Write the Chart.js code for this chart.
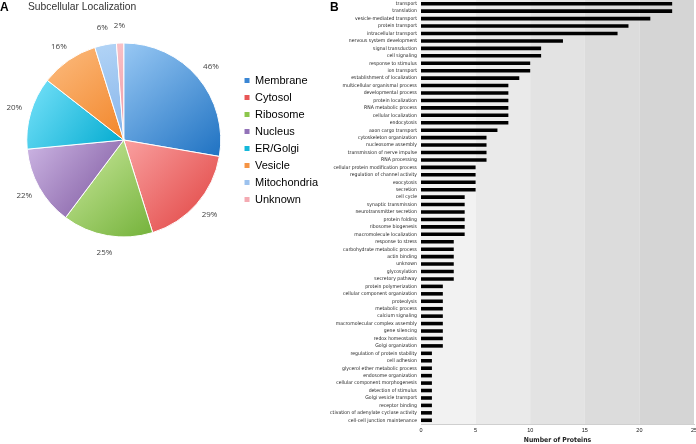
<!DOCTYPE html>
<html>
<head>
<meta charset="utf-8">
<script src="https://cdn.jsdelivr.net/npm/chart.js@4"></script>
<style>
  body { margin: 0; width: 696px; height: 444px; background: #fff; overflow: hidden; position: relative; }
  .box { position: absolute; }
  .letter { position: absolute; font: bold 12px Arial, "Liberation Sans", sans-serif; color: #000; line-height: 12px; }
  .title { position: absolute; font: 10.3px Arial, "Liberation Sans", sans-serif; color: #333; line-height: 12px; }
</style>
</head>
<body>
<div class="box" style="left:0;top:0;width:330px;height:280px"><canvas id="pie"></canvas></div>
<div class="box" style="left:330px;top:0;width:366px;height:444px"><canvas id="bar"></canvas></div>
<div class="letter" style="left:0;top:1px">A</div>
<div class="title" style="left:28px;top:1px">Subcellular Localization</div>
<div class="letter" style="left:330px;top:1px">B</div>
<script>
// panel A
const locations = ['Membrane', 'Cytosol', 'Ribosome', 'Nucleus', 'ER/Golgi', 'Vesicle', 'Mitochondria', 'Unknown'];
const locationShares = [46, 29, 25, 22, 20, 16, 6, 2];
const lightColors = ['#98c8f4', '#f9a0a0', '#cdeaa0', '#cdb6e4', '#78e2fa', '#fcbc80', '#b2d4f6', '#f8c0c6'];
const darkColors = ['#1f72c2', '#e0403e', '#74b23a', '#7a539c', '#00aacf', '#f2862a', '#86b4ea', '#ee98a4'];
const legendColors = ['#3a86d4', '#e85656', '#8cc64c', '#9272b8', '#14b8da', '#f59444', '#9cc2ee', '#f4aab2'];

// panel B
const processLabels = [
    'transport', 'translation', 'vesicle-mediated transport', 'protein transport', 'intracellular transport',
    'nervous system development', 'signal transduction', 'cell signaling', 'response to stimulus', 'ion transport',
    'establishment of localization', 'multicellular organismal process', 'developmental process', 'protein localization',
    'RNA metabolic process', 'cellular localization', 'endocytosis', 'axon cargo transport', 'cytoskeleton organization',
    'nucleosome assembly', 'transmission of nerve impulse', 'RNA processing', 'cellular protein modification process',
    'regulation of channel activity', 'exocytosis', 'secretion', 'cell cycle', 'synaptic transmission',
    'neurotransmitter secretion', 'protein folding', 'ribosome biogenesis', 'macromolecule localization',
    'response to stress', 'carbohydrate metabolic process', 'actin binding', 'unknown', 'glycosylation',
    'secretory pathway', 'protein polymerization', 'cellular component organization', 'proteolysis',
    'metabolic process', 'calcium signaling', 'macromolecular complex assembly', 'gene silencing',
    'redox homeostasis', 'Golgi organization', 'regulation of protein stability', 'cell adhesion',
    'glycerol ether metabolic process', 'endosome organization', 'cellular component morphogenesis',
    'detection of stimulus', 'Golgi vesicle transport', 'receptor binding',
    'activation of adenylate cyclase activity', 'cell-cell junction maintenance'
];
const proteinCounts = [
    23, 23, 21, 19, 18, 13, 11, 11, 10, 10,
    9, 8, 8, 8, 8, 8, 8, 7, 6, 6,
    6, 6, 5, 5, 5, 5, 4, 4, 4, 4,
    4, 4, 3, 3, 3, 3, 3, 3, 2, 2,
    2, 2, 2, 2, 2, 2, 2, 1, 1, 1,
    1, 1, 1, 1, 1, 1, 1
];
const countTicks = [0, 5, 10, 15, 20, 25];
const bandShades = ['#f2f2f2', '#eaeaea', '#e3e3e3', '#dcdcdc', '#d5d5d5'];

const pieRadius = 97;

function sliceGradient(ctx) {
    const i = ctx.dataIndex;
    const chart = ctx.chart;
    const area = chart.chartArea;
    if (!area || i === undefined) return legendColors[i] || '#ccc';
    const cx = (area.left + area.right) / 2;
    const cy = (area.top + area.bottom) / 2;
    const total = locationShares.reduce((a, b) => a + b, 0);
    let before = 0;
    for (let j = 0; j < i; j++) before += locationShares[j];
    const a0 = -Math.PI / 2 + before / total * Math.PI * 2;
    const a1 = a0 + locationShares[i] / total * Math.PI * 2;
    const xs = [cx], ys = [cy];
    for (let k = 0; k <= 30; k++) {
        const a = a0 + (a1 - a0) * k / 30;
        xs.push(cx + pieRadius * Math.cos(a));
        ys.push(cy + pieRadius * Math.sin(a));
    }
    const g = chart.ctx.createLinearGradient(Math.min(...xs), Math.min(...ys), Math.max(...xs), Math.max(...ys));
    g.addColorStop(0, lightColors[i]);
    g.addColorStop(1, darkColors[i]);
    return g;
}

const percentLabels = {
    id: 'percentLabels',
    afterDatasetsDraw(chart) {
        const ctx = chart.ctx;
        const meta = chart.getDatasetMeta(0);
        ctx.save();
        ctx.font = '8px "Open Sans", "DejaVu Sans", sans-serif';
        ctx.fillStyle = '#444';
        ctx.textAlign = 'center';
        ctx.textBaseline = 'middle';
        meta.data.forEach((arc, i) => {
            const mid = (arc.startAngle + arc.endAngle) / 2;
            const r = arc.outerRadius + 17;
            ctx.fillText(locationShares[i] + '%', arc.x + r * Math.cos(mid), arc.y + r * Math.sin(mid));
        });
        ctx.restore();
    }
};

new Chart(document.getElementById('pie'), {
    type: 'pie',
    data: {
        labels: locations,
        datasets: [{
            data: locationShares,
            backgroundColor: sliceGradient,
            borderColor: '#ffffff',
            borderWidth: 1,
            radius: pieRadius
        }]
    },
    options: {
        responsive: true,
        maintainAspectRatio: false,
        animation: false,
        layout: { padding: { left: 9, right: 2, top: 20, bottom: 20 } },
        plugins: {
            legend: {
                position: 'right',
                labels: {
                    boxWidth: 5,
                    boxHeight: 5,
                    padding: 6,
                    color: '#333',
                    font: { size: 11, family: 'Arial, "Liberation Sans", sans-serif' },
                    generateLabels: chart => chart.data.labels.map((l, i) => ({
                        text: l,
                        fillStyle: legendColors[i],
                        strokeStyle: legendColors[i],
                        lineWidth: 0,
                        hidden: false,
                        index: i
                    }))
                }
            },
            tooltip: { enabled: false }
        }
    },
    plugins: [percentLabels]
});

// grey bands behind the bars, plus the count labels under the axis
const bands = {
    id: 'bands',
    beforeDatasetsDraw(chart) {
        const x = chart.scales.x;
        const area = chart.chartArea;
        const ctx = chart.ctx;
        ctx.save();
        bandShades.forEach((c, k) => {
            const x0 = x.getPixelForValue(k * 5);
            const x1 = x.getPixelForValue(k * 5 + 5);
            ctx.fillStyle = c;
            ctx.fillRect(x0, area.top, x1 - x0, area.bottom - area.top);
        });
        ctx.restore();
    },
    afterDraw(chart) {
        const x = chart.scales.x;
        const ctx = chart.ctx;
        ctx.save();
        ctx.font = '5.5px Arial, "Liberation Sans", sans-serif';
        ctx.fillStyle = '#111';
        ctx.textAlign = 'center';
        ctx.textBaseline = 'middle';
        countTicks.forEach(v => ctx.fillText(String(v), x.getPixelForValue(v), chart.chartArea.bottom + 6.5));
        ctx.restore();
    }
};

const narrow = '"Liberation Sans Narrow", "DejaVu Sans Condensed", "Arial Narrow", Arial, sans-serif';

new Chart(document.getElementById('bar'), {
    type: 'bar',
    data: {
        labels: processLabels,
        datasets: [{
            data: proteinCounts,
            backgroundColor: '#000',
            categoryPercentage: 1,
            barPercentage: 0.48
        }]
    },
    options: {
        indexAxis: 'y',
        responsive: true,
        maintainAspectRatio: false,
        animation: false,
        layout: { padding: { top: 0, left: 0, bottom: 0, right: 2 } },
        plugins: { legend: { display: false }, tooltip: { enabled: false } },
        scales: {
            y: {
                grid: { display: false, drawTicks: false },
                border: { color: '#cfcfcf' },
                ticks: { autoSkip: false, padding: 4, color: '#222', font: { size: 5.1, family: narrow } },
                afterFit: s => { s.width = 91; s.paddingTop = 0; s.paddingBottom = 0; }
            },
            x: {
                min: 0,
                max: 25,
                grid: { display: false, drawTicks: false },
                border: { color: '#cfcfcf' },
                ticks: { display: false },
                title: { display: true, text: 'Number of Proteins', color: '#222', padding: { top: 0, bottom: 0 }, font: { size: 6.8, weight: 'bold', family: narrow } },
                afterFit: s => { s.height = 20; s.paddingLeft = 0; s.paddingRight = 0; }
            }
        }
    },
    plugins: [bands]
});
</script>
</body>
</html>
